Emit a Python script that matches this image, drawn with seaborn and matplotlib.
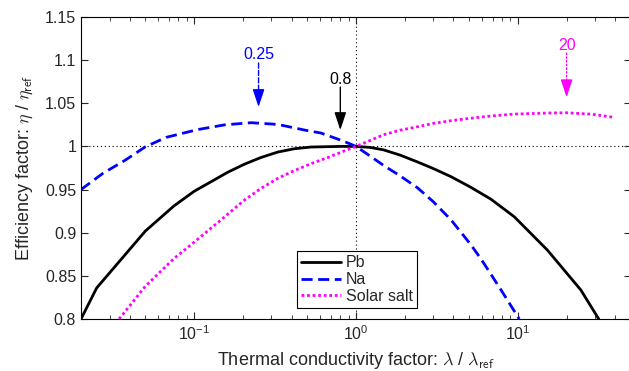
import numpy as np
import pandas as pd
import matplotlib
matplotlib.use("Agg")
import matplotlib.pyplot as plt
import seaborn as sns

# ---------------- data ----------------
pb_x = [0.02, 0.025, 0.05, 0.075, 0.1, 0.127, 0.161, 0.205, 0.259, 0.329, 0.416,
        0.527, 0.8, 1.0, 1.22, 1.48, 1.87, 2.4, 3.0, 3.86, 5.08, 6.8, 9.5, 15.2,
        24.5, 31.6]
pb_y = [0.800, 0.836, 0.902, 0.931, 0.948, 0.959, 0.970, 0.9795, 0.9872, 0.9935,
        0.9973, 0.9993, 1.000, 1.000, 0.9989, 0.996, 0.990, 0.982, 0.9744, 0.965,
        0.953, 0.939, 0.9185, 0.880, 0.8336, 0.800]

na_x = [0.02, 0.0273, 0.0372, 0.0499, 0.0671, 0.105, 0.154, 0.225, 0.329, 0.48,
        0.608, 0.84, 1.0, 1.22, 1.48, 1.87, 2.4, 3.0, 3.86, 5.08, 5.9, 6.65, 7.85,
        10.2]
na_y = [0.950, 0.9688, 0.9836, 0.9995, 1.0105, 1.0195, 1.025, 1.0275, 1.0255,
        1.019, 1.0155, 1.006, 1.000, 0.989, 0.978, 0.966, 0.952, 0.936, 0.915,
        0.887, 0.870, 0.855, 0.834, 0.800]

ss_x = [0.0344, 0.05, 0.075, 0.1, 0.1426, 0.205, 0.259, 0.329, 0.416, 0.527,
        0.667, 0.84, 1.0, 1.22, 1.48, 1.87, 2.4, 3.0, 3.86, 5.08, 6.8, 9.5, 15.2,
        20.0, 28.3, 39.3]
ss_y = [0.800, 0.838, 0.870, 0.889, 0.913, 0.938, 0.9514, 0.963, 0.972, 0.980,
        0.987, 0.9945, 1.000, 1.0068, 1.0135, 1.0188, 1.0228, 1.0267, 1.0298,
        1.0326, 1.0352, 1.0375, 1.0387, 1.0390, 1.0374, 1.0337]

series_names = ["Pb", "Na", "Solar salt"]
series_colors = ["black", "#0000ff", "#ff00ff"]

# peak annotations
ann_x = [0.25, 0.8, 20]
ann_labels = ["0.25", "0.8", "20"]
ann_colors = ["#0000ff", "black", "#ff00ff"]
ann_text_y = [1.106, 1.078, 1.1175]
ann_tail_y = [1.0966, 1.0688, 1.108]
ann_tip_y = [1.0457, 1.019, 1.057]
ann_shaft_style = ["--", "-", ":"]

y_ticks = [0.8, 0.85, 0.9, 0.95, 1.0, 1.05, 1.1, 1.15]
y_ticklabels = ["0.8", "0.85", "0.9", "0.95", "1", "1.05", "1.1", "1.15"]

# ---------------- style ----------------
sns.set_style("ticks")
plt.rcParams["font.family"] = ["Liberation Sans", "DejaVu Sans"]
plt.rcParams["mathtext.fontset"] = "cm"
plt.rcParams["axes.linewidth"] = 0.8

fig = plt.figure(figsize=(6.29, 3.71), dpi=100)
ax = fig.add_axes([81 / 629, 52 / 371, 550 / 629, 302 / 371])

df_pb = pd.DataFrame({"x": pb_x, "eta": pb_y})
df_na = pd.DataFrame({"x": na_x, "eta": na_y})
df_ss = pd.DataFrame({"x": ss_x, "eta": ss_y})

sns.lineplot(data=df_pb, x="x", y="eta", ax=ax, color=series_colors[0], lw=2,
             linestyle="-", label=series_names[0], sort=False, estimator=None)
sns.lineplot(data=df_na, x="x", y="eta", ax=ax, color=series_colors[1], lw=2,
             linestyle=(0, (4, 2)), label=series_names[1], sort=False, estimator=None)
sns.lineplot(data=df_ss, x="x", y="eta", ax=ax, color=series_colors[2], lw=2,
             linestyle=(0, (1, 1)), label=series_names[2], sort=False, estimator=None)

ax.set_xscale("log")
ax.set_xlim(0.02, 50)
ax.set_ylim(0.8, 1.15)

# reference lines
ax.axhline(1.0, color="black", lw=0.8, linestyle=(0, (1, 2.5)), zorder=0)
ax.axvline(1.0, color="black", lw=0.8, linestyle=(0, (1, 2.5)), zorder=0)

# annotations
for xv, lab, col, ty, tail, tip, st in zip(ann_x, ann_labels, ann_colors, ann_text_y,
                                          ann_tail_y, ann_tip_y, ann_shaft_style):
    ax.text(xv, ty, lab, color=col, ha="center", va="center", fontsize=11.5)
    ax.annotate("", xy=(xv, tip + 0.012), xytext=(xv, tail),
                arrowprops=dict(arrowstyle="-", color=col, lw=1, linestyle=st,
                                shrinkA=0, shrinkB=0))
    ax.annotate("", xy=(xv, tip), xytext=(xv, tip + 0.016),
                arrowprops=dict(arrowstyle="-|>,head_length=0.9,head_width=0.3",
                                color=col, lw=1, shrinkA=0, shrinkB=0,
                                mutation_scale=12))

ax.set_yticks(y_ticks)
ax.set_yticklabels(y_ticklabels)
ax.tick_params(which="both", direction="in", top=True, right=True, labelsize=11.5)
ax.tick_params(which="major", length=5, width=0.8)
ax.tick_params(which="minor", length=3, width=0.6)
for s in ax.spines.values():
    s.set_visible(True)
    s.set_color("black")

ax.set_xlabel(r"Thermal conductivity factor: $\lambda$ / $\lambda_{\mathsf{ref}}$",
              fontsize=13, labelpad=5)
ax.set_ylabel(r"Efficiency factor: $\eta$ / $\eta_{\mathsf{ref}}$",
              fontsize=13, labelpad=7)

leg = ax.legend(loc="lower left", bbox_to_anchor=((297 - 81) / 550, (319 - 308) / 302),
                borderaxespad=0, fontsize=11.5, frameon=True, fancybox=False,
                handlelength=2.5, handletextpad=0.3, labelspacing=0.12,
                borderpad=0.25)
leg.get_frame().set_edgecolor("black")
leg.get_frame().set_linewidth(0.8)
leg.get_frame().set_alpha(1)

fig.savefig("out.png", dpi=100)
